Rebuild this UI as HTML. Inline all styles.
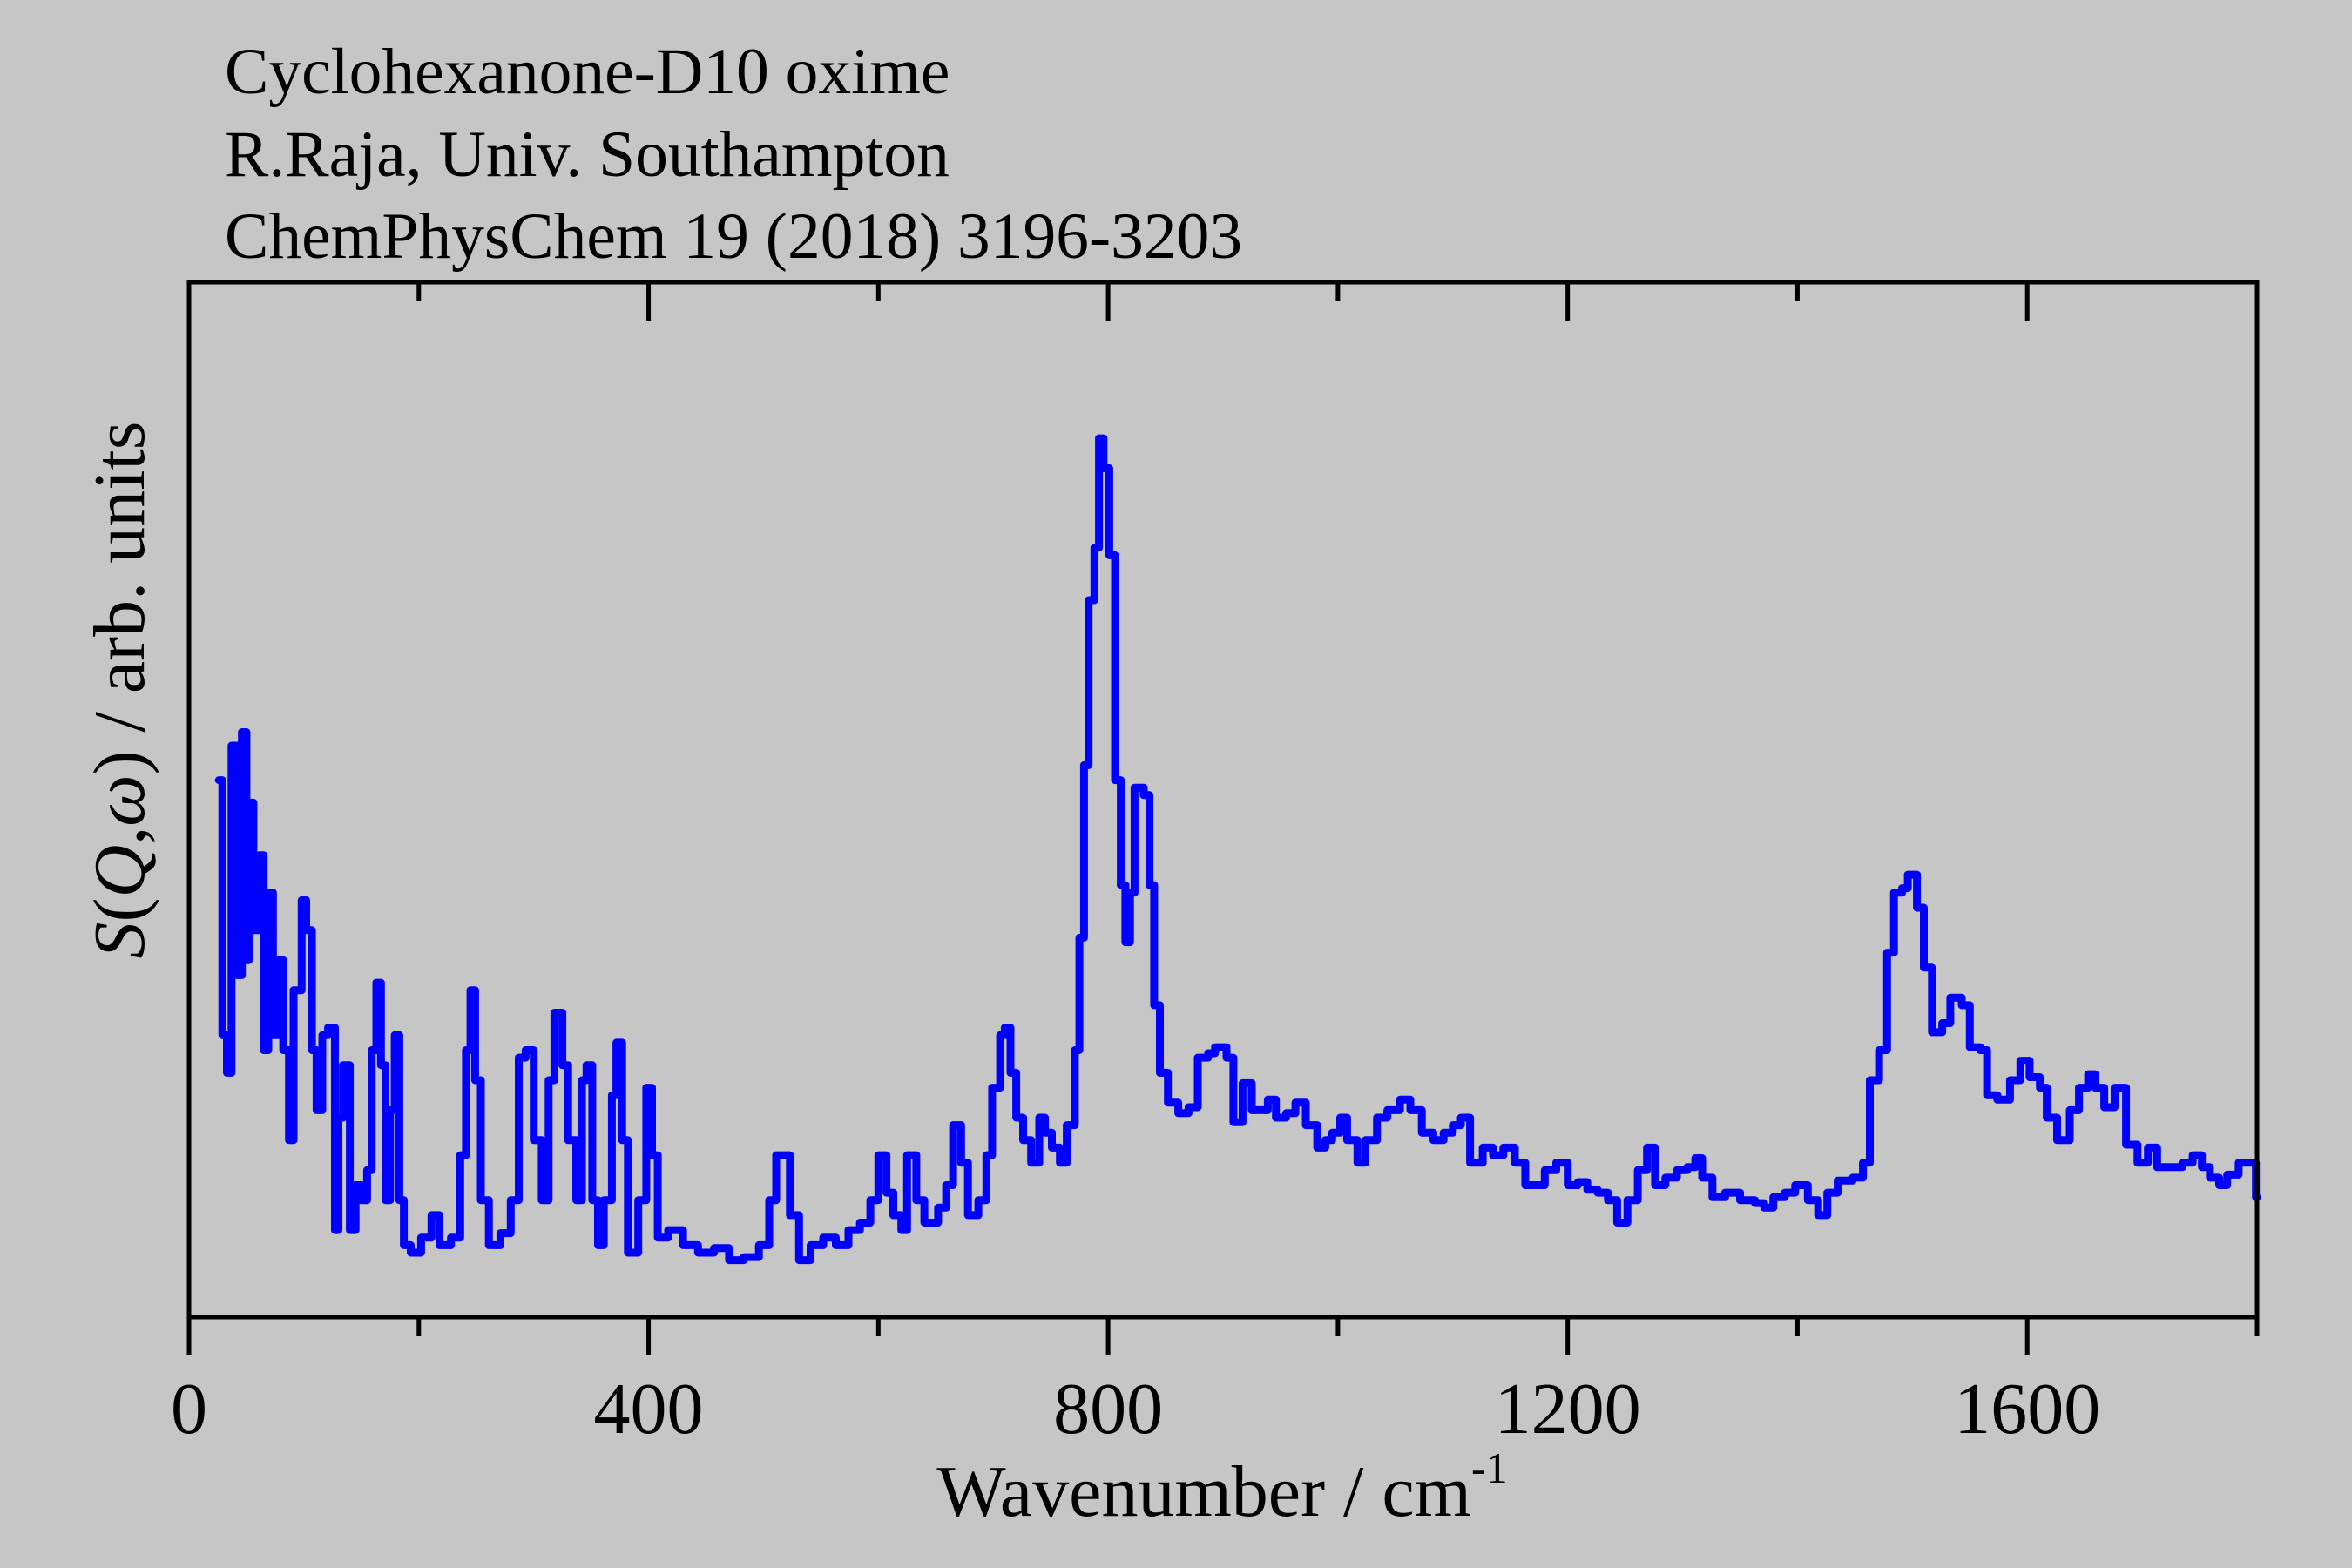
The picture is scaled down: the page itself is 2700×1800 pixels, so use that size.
<!DOCTYPE html>
<html><head><meta charset="utf-8">
<style>
html,body{margin:0;padding:0;background:#c6c6c6;}
svg{display:block;}
text{font-family:"Liberation Serif",serif;fill:#000;}
</style></head>
<body>
<svg id="chart" width="2700" height="1800" viewBox="0 0 2700 1800" xmlns="http://www.w3.org/2000/svg">
<rect x="0" y="0" width="2700" height="1800" fill="#c6c6c6"/>
<text x="258" y="107" font-size="75.5">Cyclohexanone-D10 oxime</text>
<text x="258" y="202" font-size="75.5">R.Raja, Univ. Southampton</text>
<text x="258" y="296" font-size="75.5">ChemPhysChem 19 (2018) 3196-3203</text>
<g id="axes"></g>
<path id="series" fill="none" stroke="#0000ff" stroke-width="9" stroke-linejoin="round" stroke-linecap="round"/>
<rect x="217" y="324" width="2374" height="1188" fill="none" stroke="#000" stroke-width="5"/>
<text x="1403" y="1740" font-size="84" text-anchor="middle">Wavenumber / cm<tspan font-size="50" dy="-38">-1</tspan></text>
<text transform="translate(165,792) rotate(-90)" font-size="84" text-anchor="middle"><tspan font-style="italic">S</tspan>(<tspan font-style="italic">Q</tspan>,<tspan font-style="italic">ω</tspan>) / arb. units</text>
</svg>
<script>
const wavenumbers = [26,29,33,37,42,46,50,52,56,61,65,69,73,78,82,87,91,98,102,107,111,116,121,127,130,134,140,145,150,155,159,163,167,171,175,179,183,187,193,202,211,218,228,236,241,245,249,254,261,271,280,287,293,300,307,313,318,325,330,337,342,346,351,356,361,368,372,377,382,391,398,403,408,417,430,443,457,470,483,496,505,511,517,523,531,541,552,563,574,584,593,600,607,613,620,625,633,640,652,659,665,672,678,687,694,699,706,710,715,720,726,733,740,745,751,758,764,771,775,779,783,788,792,796,801,806,811,815,819,823,831,836,840,845,852,861,870,878,887,893,903,909,917,925,933,939,946,955,963,972,982,989,995,1002,1008,1017,1024,1034,1043,1054,1063,1073,1083,1092,1100,1107,1115,1126,1135,1144,1154,1163,1174,1180,1190,1200,1209,1217,1226,1235,1243,1252,1261,1269,1276,1285,1295,1304,1311,1317,1326,1337,1350,1363,1371,1379,1389,1398,1409,1418,1426,1435,1448,1457,1463,1471,1478,1484,1491,1496,1504,1510,1517,1526,1533,1543,1550,1559,1565,1574,1585,1594,1602,1611,1617,1626,1637,1645,1653,1659,1667,1676,1686,1696,1705,1713,1722,1735,1744,1752,1759,1767,1774,1784,1791,1799];
const intensities = [358,188,163,381,228,390,238,343,258,308,178,283,188,238,178,118,218,278,258,178,138,188,193,58,133,168,58,88,78,98,178,223,168,78,138,188,78,48,43,53,68,48,53,108,178,218,158,78,48,56,78,173,178,118,78,158,203,168,118,78,158,168,78,48,78,148,183,118,43,78,153,108,53,58,48,43,46,38,40,48,78,108,108,68,38,48,53,48,58,63,78,108,83,68,58,108,78,63,73,88,128,103,68,78,108,153,188,193,163,133,118,103,133,123,113,103,128,178,253,368,478,513,586,566,508,358,288,250,283,353,348,288,208,163,143,136,140,173,176,180,173,130,156,138,138,145,133,136,143,128,113,118,123,133,118,103,118,133,138,145,138,123,118,123,128,133,103,113,108,113,103,88,88,98,103,88,90,85,83,78,63,78,98,113,88,93,98,100,106,93,80,83,78,76,73,80,83,88,78,68,83,91,93,103,158,178,243,283,286,295,273,233,190,196,213,208,180,178,148,145,158,171,160,153,133,118,138,153,162,153,140,153,115,103,113,100,100,103,108,100,93,88,95,103,103,80];
const majorTicks = [0,400,800,1200,1600];
const minorTicks = [200,600,1000,1400,1800];
const xMin = 0, xMax = 1800, yMin = 0, yMax = 690;
const L = 217, R = 2591, T = 324, B = 1512;
function xs(v){ return L + (v - xMin) / (xMax - xMin) * (R - L); }
function ys(v){ return B - (v - yMin) / (yMax - yMin) * (B - T); }
const NS = "http://www.w3.org/2000/svg";
const axes = document.getElementById('axes');
function line(x1,y1,x2,y2,name){
  const l = document.createElementNS(NS,'line');
  l.setAttribute('x1',x1);l.setAttribute('y1',y1);l.setAttribute('x2',x2);l.setAttribute('y2',y2);
  l.setAttribute('stroke','#000');l.setAttribute('stroke-width','5');
  
  
  axes.appendChild(l);
}
majorTicks.forEach(t=>{
  const x = xs(t);
  line(x,B,x,B+44,'x-major-tick');
  line(x,T,x,T+44,'top-major-tick');
  const tx = document.createElementNS(NS,'text');
  tx.setAttribute('x',x);tx.setAttribute('y',1645);
  tx.setAttribute('font-size','84');tx.setAttribute('text-anchor','middle');
  tx.textContent = t;
  
  
  axes.appendChild(tx);
});
minorTicks.forEach(t=>{
  const x = xs(t);
  line(x,B,x,B+22,'x-minor-tick');
  line(x,T,x,T+22,'top-minor-tick');
});
let d = '';
for(let i=0;i<wavenumbers.length;i++){
  const x = xs(wavenumbers[i]), y = ys(intensities[i]);
  if(i===0){ d += 'M'+x.toFixed(1)+','+y.toFixed(1); }
  else { d += ' V'+y.toFixed(1); }
  const xn = i+1<wavenumbers.length ? xs(wavenumbers[i+1]) : xs(xMax);
  d += ' H'+xn.toFixed(1);
}
document.getElementById('series').setAttribute('d', d);
</script>
</body></html>
